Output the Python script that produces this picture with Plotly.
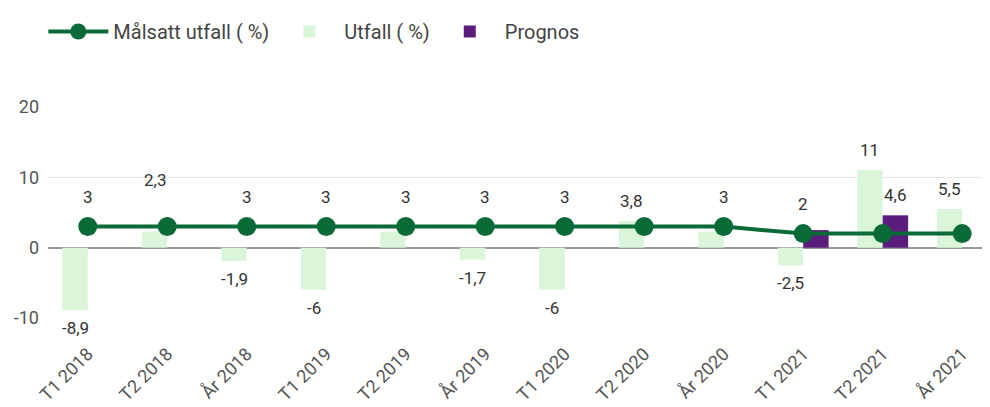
import plotly.graph_objects as go

categories = ["T1 2018", "T2 2018", "År 2018", "T1 2019", "T2 2019", "År 2019",
              "T1 2020", "T2 2020", "År 2020", "T1 2021", "T2 2021", "År 2021"]
malsatt = [3, 3, 3, 3, 3, 3, 3, 3, 3, 2, 2, 2]
utfall = [-8.9, 2.3, -1.9, -6, 2.3, -1.7, -6, 3.8, 2.3, -2.5, 11, 5.5]
prognos = [None, None, None, None, None, None, None, None, None, 2.5, 4.6, None]

# which data labels are visible in the reference
malsatt_label_shown = [True, False, True, True, True, True, True, False, True, True, False, False]
utfall_label_shown = [True, True, True, True, False, True, True, True, False, True, True, True]
prognos_label_shown = [False] * 9 + [False, True, False]
# T2 2018 label is pushed up above the line in the reference
utfall_label_lift = [0, 31, 0, 0, 0, 0, 0, 0, 0, 0, 0, 0]

y_ticks = [-10, 0, 10, 20]

GREEN = "#0a6b38"
LIGHT = "#daf5da"
PURPLE = "#5a1d7b"
FONT = "Roboto"
TXT = "#333333"


def fmt(v):
    s = f"{v:g}"
    return s.replace(".", ",")


fig = go.Figure()
fig.add_trace(go.Bar(x=categories, y=utfall, name="Utfall ( %)", legendrank=2,
                     marker=dict(color=LIGHT, line=dict(width=0))))
fig.add_trace(go.Bar(x=categories, y=prognos, name="Prognos", legendrank=3,
                     marker=dict(color=PURPLE, line=dict(width=0))))
fig.add_trace(go.Scatter(x=categories, y=malsatt, name="Målsatt utfall ( %)", mode="lines+markers",
                         legendrank=1,
                         line=dict(color=GREEN, width=4), marker=dict(color=GREEN, size=19)))

bargap = 0.36
off = (1 - bargap) / 4

annotations = []
for i, v in enumerate(malsatt):
    if malsatt_label_shown[i]:
        annotations.append(dict(x=i, y=v, xref="x", yref="y", text=fmt(v), showarrow=False,
                                yanchor="bottom", yshift=18, font=dict(size=17, color=TXT, family=FONT)))
for i, v in enumerate(utfall):
    if utfall_label_shown[i] and v is not None:
        if v >= 0:
            annotations.append(dict(x=i - off, y=v, xref="x", yref="y", text=fmt(v), showarrow=False,
                                    yanchor="bottom", yshift=8 + utfall_label_lift[i],
                                    font=dict(size=17, color=TXT, family=FONT)))
        else:
            annotations.append(dict(x=i - off, y=v, xref="x", yref="y", text=fmt(v), showarrow=False,
                                    yanchor="top", yshift=-6, font=dict(size=17, color=TXT, family=FONT)))
for i, v in enumerate(prognos):
    if prognos_label_shown[i] and v is not None:
        annotations.append(dict(x=i + off, y=v, xref="x", yref="y", text=fmt(v), showarrow=False,
                                yanchor="bottom", yshift=8, font=dict(size=17, color=TXT, family=FONT)))

fig.update_layout(
    width=982, height=399,
    margin=dict(l=40, r=0, t=99, b=89, autoexpand=False),
    paper_bgcolor="white", plot_bgcolor="white",
    barmode="group", bargap=bargap, bargroupgap=0,
    font=dict(family=FONT, size=17, color=TXT),
    legend=dict(orientation="h", xref="container", yref="container", x=0.036, y=0.99,
                xanchor="left", yanchor="top", font=dict(size=20, color="#444"),
                traceorder="normal", itemwidth=60),
    annotations=annotations,
    showlegend=True,
)
fig.update_xaxes(type="category", range=[-0.5, 11.35], tickangle=-45, showgrid=False, automargin=False,
                 tickfont=dict(size=18, color="#555", family=FONT), ticks="", ticklabelstandoff=21,
                 showline=False)
fig.update_yaxes(range=[-10, 20], tickvals=y_ticks, ticktext=[str(t) for t in y_ticks], automargin=False,
                 showgrid=True, gridcolor="#e6e6e6", gridwidth=1,
                 zeroline=True, zerolinecolor="#9a9a9a", zerolinewidth=2,
                 tickfont=dict(size=18, color="#555", family=FONT), ticks="", ticklabelstandoff=8)

fig.write_html("out.html")
